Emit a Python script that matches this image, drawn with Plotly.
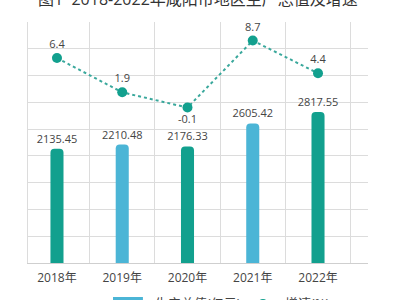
import plotly.graph_objects as go

years = ["2018年", "2019年", "2020年", "2021年", "2022年"]
gdp = [2135.45, 2210.48, 2176.33, 2605.42, 2817.55]
growth = [6.4, 1.9, -0.1, 8.7, 4.4]
title_text = "图1  2018-2022年咸阳市地区生产总值及增速"
legend_labels = ["生产总值(亿元)", "增速(%)"]

TEAL = "#12a08e"
BLUE = "#4bb5d6"
GRID = "#dcdcdc"
FONT = "Open Sans, Noto Sans CJK SC, sans-serif"

xs = list(range(len(years)))
bar_colors = [TEAL if i % 2 == 0 else BLUE for i in xs]
label_pos = ["bottom center" if v < 0 else "top center" for v in growth]

fig = go.Figure()
fig.add_trace(go.Bar(
    x=xs, y=gdp, width=0.2,
    marker=dict(color=bar_colors, cornerradius=4, line=dict(width=0)),
    text=[f"{v:.2f}" for v in gdp], textposition="outside",
    constraintext="none",
    textfont=dict(size=11, color="#444"), cliponaxis=False,
    showlegend=False, name=legend_labels[0],
))
fig.add_trace(go.Scatter(
    x=xs, y=growth, yaxis="y2", mode="lines+markers+text",
    line=dict(color="#3aa89c", width=2, dash="dot"),
    marker=dict(color=TEAL, size=10),
    text=[str(v) for v in growth], textposition=label_pos,
    textfont=dict(size=11, color="#444"), cliponaxis=False,
    showlegend=False, name=legend_labels[1],
))

fig.update_layout(
    width=400, height=300,
    margin=dict(l=28, r=32, t=22, b=37),
    paper_bgcolor="white", plot_bgcolor="white",
    font=dict(family=FONT, color="#444"),
    xaxis=dict(
        range=[-0.444, 4.766], tickvals=xs, ticktext=years,
        showgrid=False, zeroline=False, showline=True, linecolor="#cfcfcf",
        ticks="", ticklabelstandoff=4, tickfont=dict(size=12, color="#444"),
        minor=dict(tickvals=[i + 0.5 for i in xs], showgrid=True,
                   gridcolor=GRID, gridwidth=1, ticks=""),
    ),
    yaxis=dict(
        range=[0, 4500], tickvals=[500 * k for k in range(1, 9)],
        showticklabels=False, showgrid=True, gridcolor=GRID,
        zeroline=False, showline=True, linecolor=GRID,
    ),
    yaxis2=dict(
        range=[-20.5, 11.13], overlaying="y", side="right",
        showgrid=False, showticklabels=False, zeroline=False, showline=False,
    ),
    bargap=0.5,
)

fig.add_annotation(
    text=title_text, xref="paper", yref="paper", x=0.5, y=1.095,
    xanchor="center", yanchor="middle", showarrow=False,
    font=dict(size=16, color="#333", family=FONT),
)

# bottom legend (partly cut off like the reference)
fig.add_shape(type="rect", xref="paper", yref="paper",
              x0=0.25, x1=0.338, y0=-0.141, y1=-0.191,
              fillcolor=BLUE, line=dict(width=0))
fig.add_shape(type="circle", xref="paper", yref="paper",
              x0=0.691 - 0.012, x1=0.691 + 0.012, y0=-0.149, y1=-0.183,
              fillcolor=TEAL, line=dict(width=0))
fig.add_annotation(text=legend_labels[0], xref="paper", yref="paper",
                   x=0.368, y=-0.168, xanchor="left", yanchor="middle",
                   showarrow=False, font=dict(size=13, color="#444"))
fig.add_annotation(text=legend_labels[1], xref="paper", yref="paper",
                   x=0.75, y=-0.168, xanchor="left", yanchor="middle",
                   showarrow=False, font=dict(size=13, color="#444"))

fig.write_html("out.html")
